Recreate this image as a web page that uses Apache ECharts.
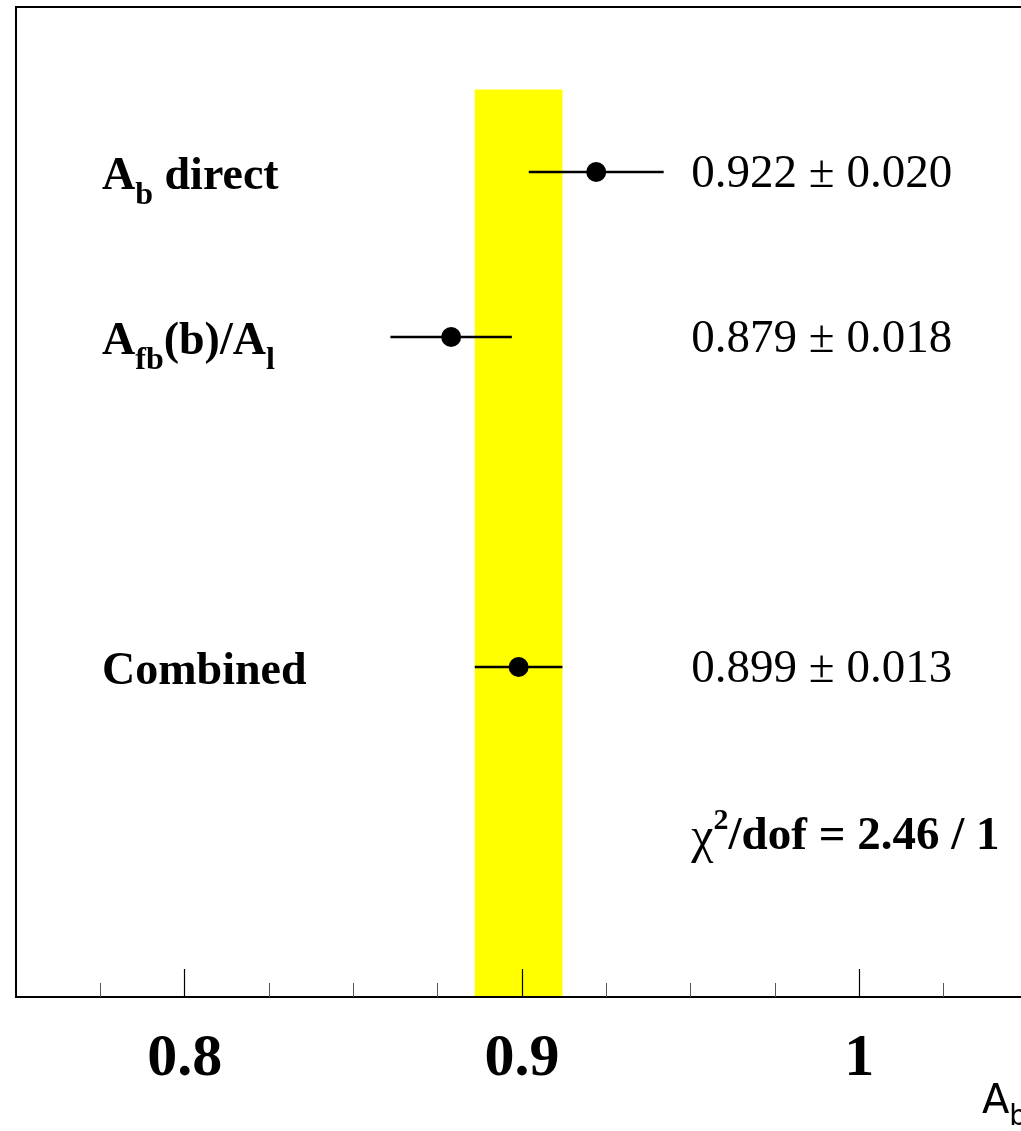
<!DOCTYPE html>
<html>
<head>
<meta charset="utf-8">
<script src="https://cdn.jsdelivr.net/npm/echarts@6/dist/echarts.min.js"></script>
<style>
  html, body { margin: 0; padding: 0; background: #fff; }
  #chart { width: 1021px; height: 1131px; }
</style>
</head>
<body>
<div id="chart"></div>
<script>
// label pieces: [text, 'm' = normal, 's' = subscript]
const labels = [
  [['A', 'm'], ['b', 's'], [' direct', 'm']],
  [['A', 'm'], ['fb', 's'], ['(b)/A', 'm'], ['l', 's']],
  [['Combined', 'm']],
];
const rows = [1, 2, 4];
const values = [0.922, 0.879, 0.899];
const errors = [0.020, 0.018, 0.013];
const chi2 = 2.46;
const dof = 1;
const majorTicks = [0.8, 0.9, 1.0];
const minorTicks = [0.775, 0.825, 0.85, 0.875, 0.925, 0.95, 0.975, 1.025];

const SERIF = '"Liberation Serif", "Times New Roman", serif';
const SANS = '"DejaVu Sans", sans-serif';
const combinedIdx = 2;

const measureCtx = document.createElement('canvas').getContext('2d');
function textWidth(str, font) {
  measureCtx.font = font;
  return measureCtx.measureText(str).width;
}

// lay out pieces left to right; sub pieces shifted down, sup pieces shifted up
function pieceTexts(pieces, x, y, styles) {
  let cx = x;
  return pieces.map(([str, kind]) => {
    const s = styles[kind];
    const font = `${s.weight || 'normal'} ${s.size}px ${s.family}`;
    const el = {
      type: 'text', x: cx, y: y + (s.dy || 0),
      style: { text: str, font, fill: '#000', verticalAlign: 'middle', align: 'left' },
    };
    cx += textWidth(str, font);
    return el;
  });
}

const labelStyles = {
  m: { family: SERIF, weight: 'bold', size: 46 },
  s: { family: SERIF, weight: 'bold', size: 32, dy: 19 },
};
const chiStyles = {
  c: { family: SERIF, size: 50, dy: 2 },
  u: { family: SERIF, weight: 'bold', size: 30, dy: -16 },
  t: { family: SERIF, weight: 'bold', size: 47 },
};
const nameStyles = {
  m: { family: SANS, size: 40 },
  s: { family: SANS, size: 28, dy: 15 },
};

const chart = echarts.init(document.getElementById('chart'), null, { renderer: 'canvas' });

const points = values.map((v, i) => [v, rows[i], errors[i], i]);

const gridBox = { left: 16, top: 7, width: 1012, height: 990, containLabel: false, outerBoundsMode: 'none' };

chart.setOption({
  backgroundColor: '#fff',
  animation: false,
  grid: [
    Object.assign({ show: true, borderColor: '#000', borderWidth: 2, backgroundColor: 'transparent' }, gridBox),
    Object.assign({ show: false }, gridBox),
  ],
  xAxis: [
    {
      gridIndex: 0, type: 'value', min: 0.75, max: 1.05, position: 'bottom',
      axisLine: { show: true, onZero: false, lineStyle: { color: '#000', width: 2 } },
      axisTick: { show: true, inside: true, length: 28, customValues: majorTicks, lineStyle: { color: '#000', width: 1.2 } },
      axisLabel: {
        customValues: majorTicks, margin: 32,
        formatter: v => String(+(+v).toFixed(2)),
        fontFamily: SERIF, fontWeight: 'bold', fontSize: 60, color: '#000',
      },
      splitLine: { show: false },
    },
    {
      gridIndex: 1, type: 'value', min: 0.75, max: 1.05, position: 'bottom',
      axisLine: { show: false, onZero: false },
      axisTick: { show: true, inside: true, length: 14, customValues: minorTicks, lineStyle: { color: '#555', width: 1 } },
      axisLabel: { show: false },
      splitLine: { show: false },
    },
  ],
  yAxis: [
    { gridIndex: 0, type: 'value', min: 0, max: 6, inverse: true, show: false },
    { gridIndex: 1, type: 'value', min: 0, max: 6, inverse: true, show: false },
  ],
  graphic: [{
    type: 'group', left: 982, top: 1083,
    children: pieceTexts([['A', 'm'], ['b', 's']], 0, 20, nameStyles),
  }],
  series: [
    {
      // combined band, kept under the axis ticks
      type: 'custom', z: -1,
      data: [[values[combinedIdx], errors[combinedIdx]]],
      renderItem: (params, api) => {
        const v = api.value(0), e = api.value(1);
        const p0 = api.coord([v - e, 0.5]);
        const p1 = api.coord([v + e, 6]);
        return { type: 'rect', shape: { x: p0[0], y: p0[1], width: p1[0] - p0[0], height: p1[1] - p0[1] }, style: { fill: '#ffff00' } };
      },
    },
    {
      // error bars
      type: 'custom', z: 3,
      data: points,
      renderItem: (params, api) => {
        const v = api.value(0), r = api.value(1), e = api.value(2);
        const a = api.coord([v - e, r]);
        const b = api.coord([v + e, r]);
        return { type: 'line', shape: { x1: a[0], y1: a[1], x2: b[0], y2: b[1] }, style: { stroke: '#000', lineWidth: 2.5 } };
      },
    },
    {
      type: 'scatter', z: 4,
      data: points.map(p => [p[0], p[1]]),
      symbol: 'circle', symbolSize: 20,
      itemStyle: { color: '#000', opacity: 1 },
      emphasis: { disabled: true },
    },
    {
      // row labels and results
      type: 'custom', z: 5,
      data: points,
      renderItem: (params, api) => {
        const v = api.value(0), r = api.value(1), e = api.value(2), i = api.value(3);
        const left = api.coord([0.7755, r]);
        const right = api.coord([0.9502, r]);
        return {
          type: 'group',
          children: pieceTexts(labels[i], left[0], left[1] + 5, labelStyles).concat([
            { type: 'text', x: right[0], y: right[1] + 3,
              style: { text: v.toFixed(3) + ' \u00b1 ' + e.toFixed(3), fontFamily: SERIF, fontSize: 47, fill: '#000', verticalAlign: 'middle', align: 'left' } },
          ]),
        };
      },
    },
    {
      // chi2 / dof
      type: 'custom', z: 5,
      data: [[0.9502, 5]],
      renderItem: (params, api) => {
        const p = api.coord([api.value(0), api.value(1)]);
        return {
          type: 'group',
          children: pieceTexts([['\u03c7', 'c'], ['2', 'u'], ['/dof = ' + chi2.toFixed(2) + ' / ' + dof, 't']], p[0], p[1] + 5, chiStyles),
        };
      },
    },
  ],
});
</script>
</body>
</html>
